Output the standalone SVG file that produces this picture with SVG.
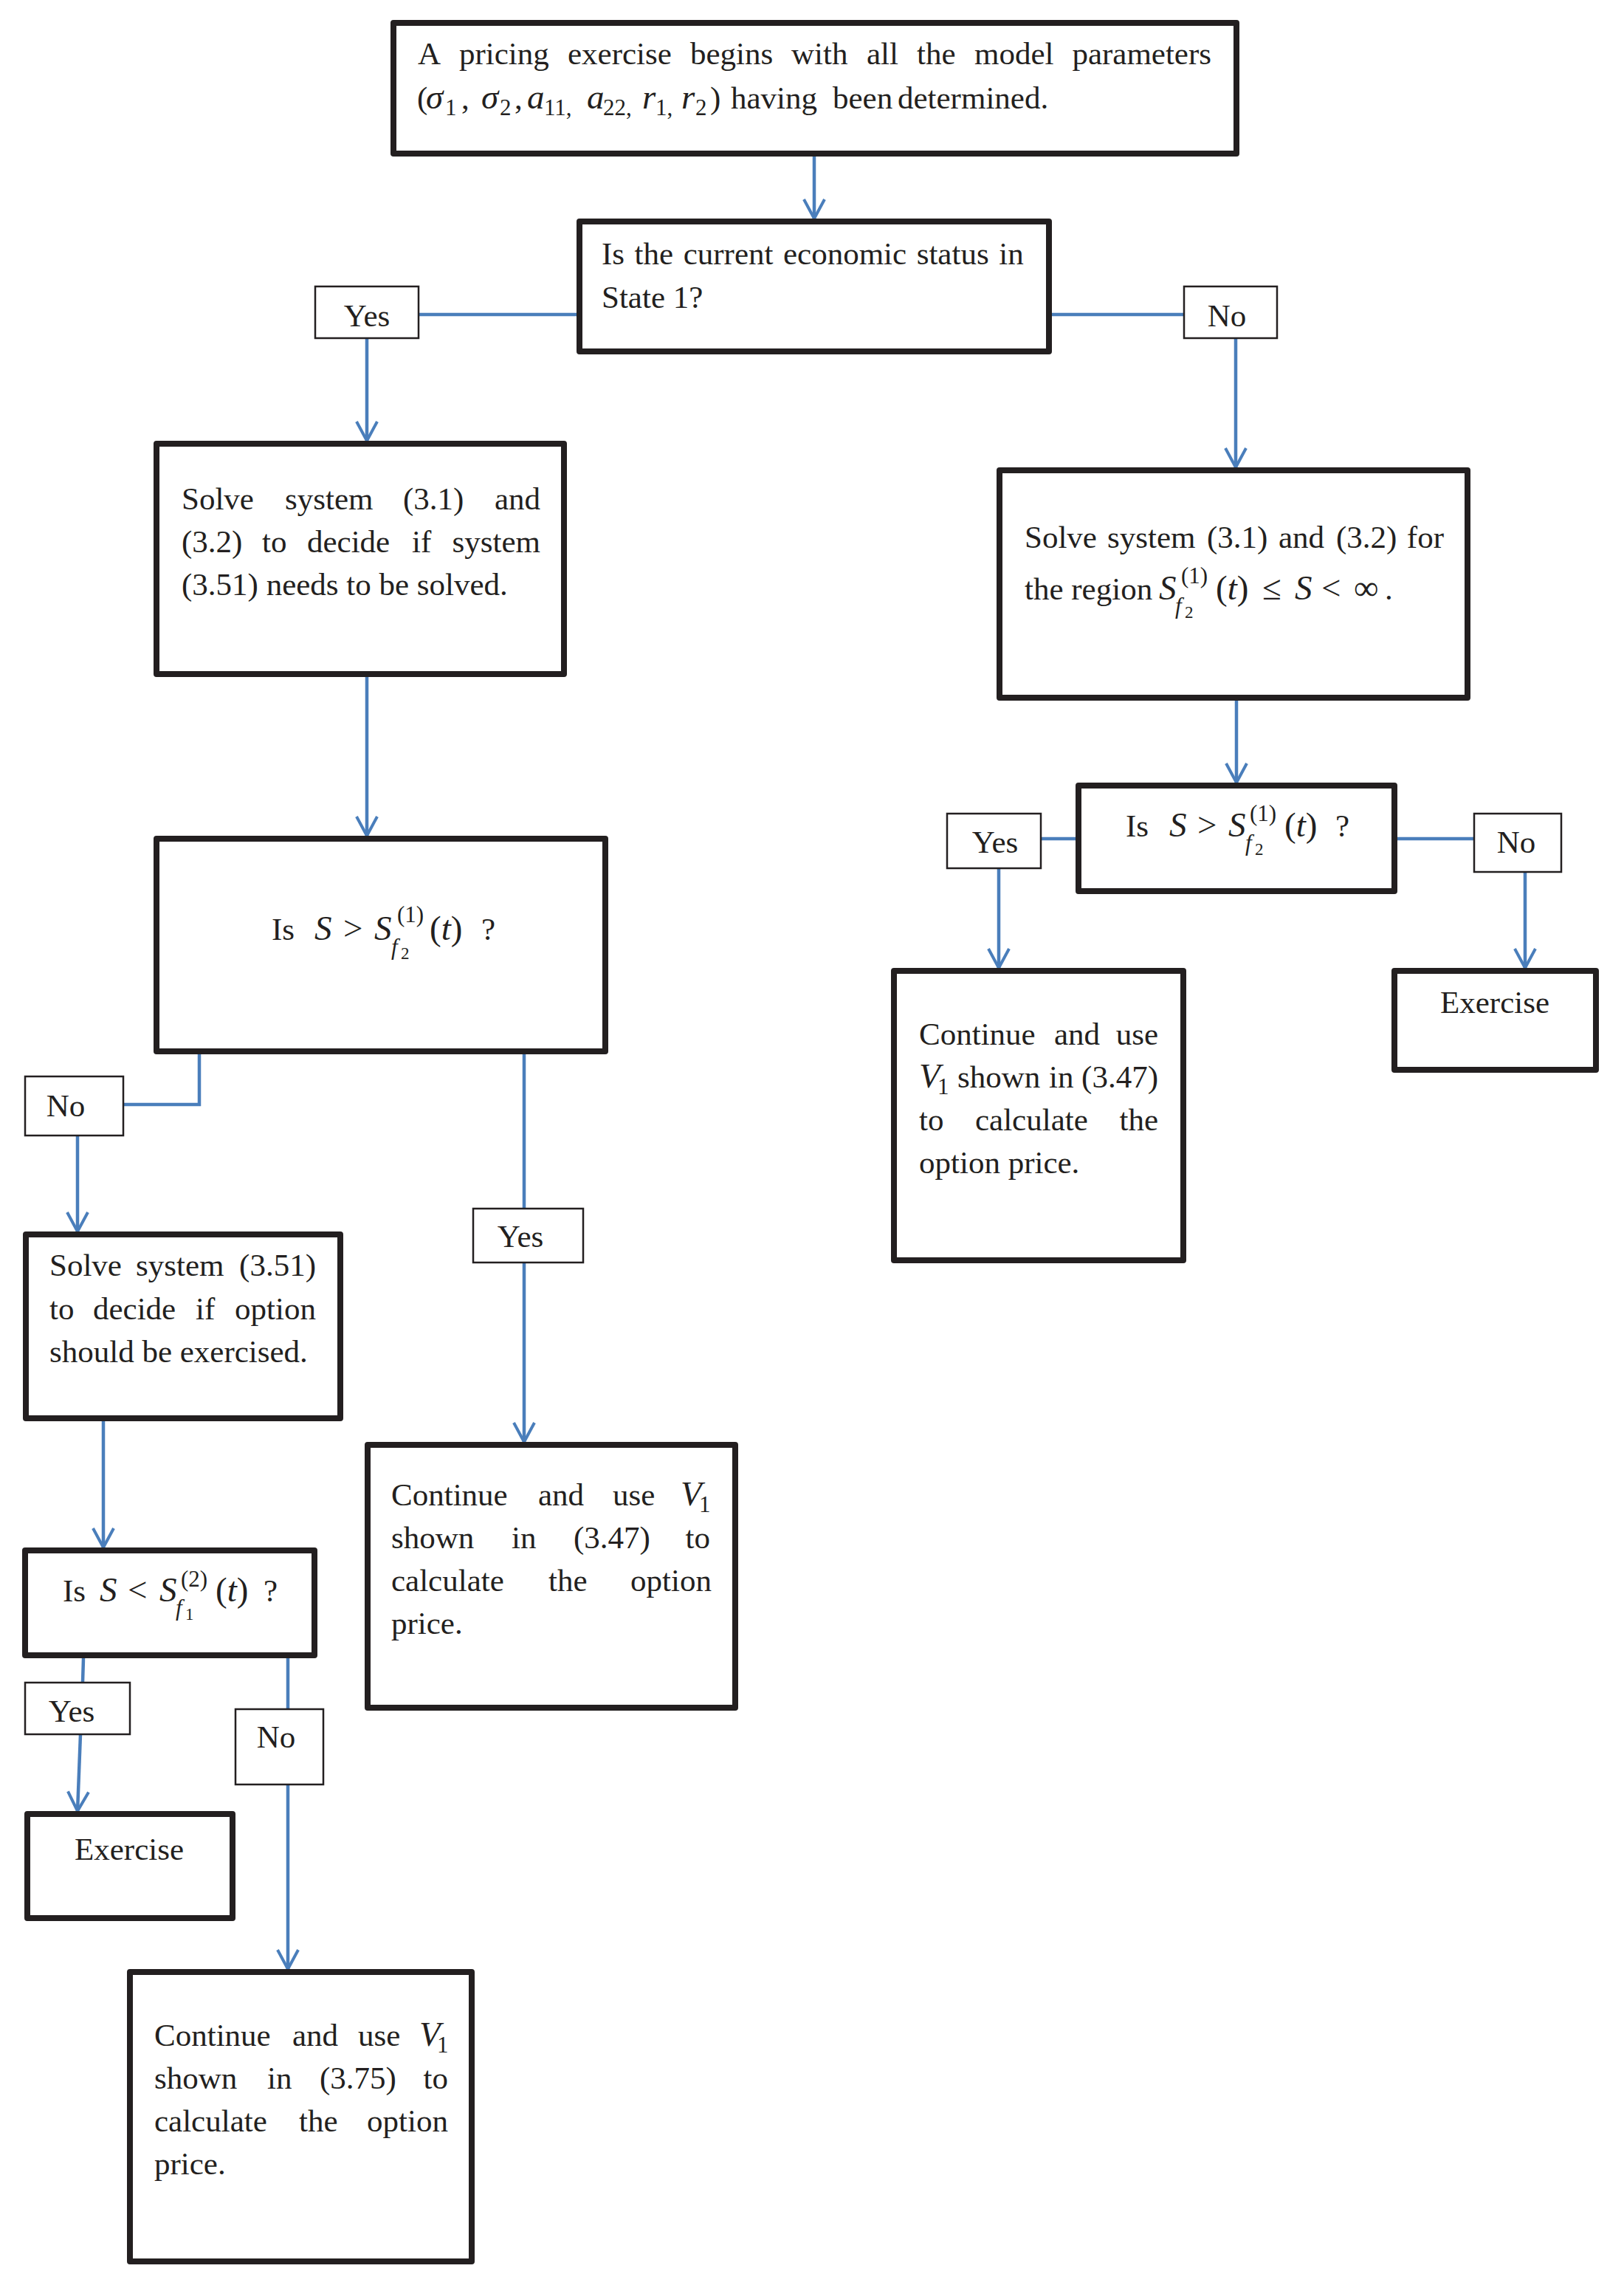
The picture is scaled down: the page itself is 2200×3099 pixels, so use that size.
<svg xmlns="http://www.w3.org/2000/svg" width="2200" height="3099" viewBox="0 0 2200 3099">
<style>
.box{fill:#fff;stroke:#231f20;stroke-width:8;stroke-linejoin:round}
.lbl{fill:#fff;stroke:#231f20;stroke-width:2.5}
.t{font-family:"Liberation Serif","Times New Roman",serif;font-size:43px;fill:#231f20}
.i{font-style:italic}
.s{font-size:31px}
.ss{font-size:23px}
.mx{font-size:47px}
.e{text-anchor:end}
.m{text-anchor:middle}
.c{stroke:#4a7ebb;stroke-width:4.5;fill:none}
</style>
<defs>
<marker id="ah" markerUnits="userSpaceOnUse" markerWidth="40" markerHeight="40" viewBox="-30 -20 40 40" refX="0" refY="0" orient="auto">
<path d="M-26,-14 L0,0 L-26,14" fill="none" stroke="#4a7ebb" stroke-width="4"/>
</marker>
</defs>
<rect width="2200" height="3099" fill="#fff"/>

<g id="connectors">
<line class="c" x1="1103" y1="212" x2="1103" y2="296" marker-end="url(#ah)"/>
<line class="c" x1="567" y1="426" x2="781" y2="426"/>
<line class="c" x1="497" y1="458" x2="497" y2="597" marker-end="url(#ah)"/>
<line class="c" x1="1425" y1="426" x2="1604" y2="426"/>
<line class="c" x1="1674" y1="458" x2="1674" y2="633" marker-end="url(#ah)"/>
<line class="c" x1="497" y1="917" x2="497" y2="1132" marker-end="url(#ah)"/>
<line class="c" x1="1675" y1="949" x2="1675" y2="1060" marker-end="url(#ah)"/>
<line class="c" x1="1410" y1="1136" x2="1457" y2="1136"/>
<line class="c" x1="1353" y1="1176" x2="1353" y2="1311" marker-end="url(#ah)"/>
<line class="c" x1="1893" y1="1136" x2="1997" y2="1136"/>
<line class="c" x1="2066" y1="1181" x2="2066" y2="1311" marker-end="url(#ah)"/>
<polyline class="c" points="270,1428 270,1496 167,1496"/>
<line class="c" x1="105" y1="1538" x2="105" y2="1668" marker-end="url(#ah)"/>
<line class="c" x1="710" y1="1428" x2="710" y2="1637"/>
<line class="c" x1="710" y1="1710" x2="710" y2="1953" marker-end="url(#ah)"/>
<line class="c" x1="140" y1="1925" x2="140" y2="2096" marker-end="url(#ah)"/>
<line class="c" x1="113" y1="2246" x2="112" y2="2279"/>
<line class="c" x1="109" y1="2349" x2="105" y2="2453" marker-end="url(#ah)"/>
<line class="c" x1="390" y1="2246" x2="390" y2="2315"/>
<line class="c" x1="390" y1="2417" x2="390" y2="2667" marker-end="url(#ah)"/>
</g>

<g id="n-start">
<rect class="box" x="533" y="31" width="1142" height="177"/>
<text class="t" y="87"><tspan x="566">A</tspan><tspan x="622">pricing</tspan><tspan x="769">exercise</tspan><tspan x="935">begins</tspan><tspan x="1072">with</tspan><tspan x="1174">all</tspan><tspan x="1242">the</tspan><tspan x="1320">model</tspan></text>
<text class="t e" x="1641" y="87">parameters</text>
<text class="t" y="147"><tspan x="565">(</tspan><tspan x="577" class="i mx">σ</tspan><tspan x="603" y="156" class="s">1</tspan><tspan x="625" y="147">,</tspan><tspan x="652" class="i mx">σ</tspan><tspan x="677" y="156" class="s">2</tspan><tspan x="697" y="147">,</tspan><tspan x="714" class="i mx">a</tspan><tspan x="737" y="156" class="s">11,</tspan><tspan x="795" y="147" class="i mx">a</tspan><tspan x="817" y="156" class="s">22,</tspan><tspan x="870" y="147" class="i mx">r</tspan><tspan x="888" y="156" class="s">1,</tspan><tspan x="923" y="147" class="i mx">r</tspan><tspan x="942" y="156" class="s">2</tspan><tspan x="962" y="147">)</tspan><tspan x="990">having</tspan><tspan x="1128">been</tspan><tspan x="1216">determined.</tspan></text>
</g>

<g id="n-state1">
<rect class="box" x="785" y="300" width="636" height="176"/>
<text class="t" x="815" y="358" style="word-spacing:2.8px">Is the current economic status in</text>
<text class="t" x="815" y="417">State 1?</text>
</g>

<g id="l-yes1">
<rect class="lbl" x="427" y="388" width="140" height="70"/>
<text class="t m" x="497" y="442">Yes</text>
</g>
<g id="l-no1">
<rect class="lbl" x="1604" y="388" width="126" height="70"/>
<text class="t m" x="1662" y="442">No</text>
</g>

<g id="n-solve-left">
<rect class="box" x="212" y="601" width="552" height="312"/>
<text class="t" y="690"><tspan x="246">Solve</tspan><tspan x="386">system</tspan><tspan x="546">(3.1)</tspan></text>
<text class="t e" x="732" y="690">and</text>
<text class="t" y="748"><tspan x="246">(3.2)</tspan><tspan x="355">to</tspan><tspan x="416">decide</tspan><tspan x="558">if</tspan></text>
<text class="t e" x="732" y="748">system</text>
<text class="t" x="246" y="806">(3.51) needs to be solved.</text>
</g>

<g id="n-solve-right">
<rect class="box" x="1354" y="637" width="634" height="308"/>
<text class="t" y="742"><tspan x="1388">Solve</tspan><tspan x="1500">system</tspan><tspan x="1635">(3.1)</tspan><tspan x="1732">and</tspan><tspan x="1810">(3.2)</tspan></text>
<text class="t e" x="1956" y="742">for</text>
<text class="t" y="812"><tspan x="1388">the region</tspan><tspan x="1570" class="i mx">S</tspan><tspan x="1592" y="831" class="s i">f</tspan><tspan x="1605" y="837" class="ss">2</tspan><tspan x="1600" y="790" class="s">(1)</tspan><tspan x="1647" y="812" class="mx">(</tspan><tspan class="i mx">t</tspan><tspan class="mx">)</tspan><tspan x="1710" class="mx">≤</tspan><tspan x="1754" class="i mx">S</tspan><tspan x="1790" class="mx">&lt;</tspan><tspan x="1834" class="mx">∞</tspan><tspan x="1876">.</tspan></text>
</g>

<g id="n-is-s-gt-right">
<rect class="box" x="1461" y="1064" width="428" height="143"/>
<text class="t" y="1133"><tspan x="1525">Is</tspan><tspan x="1584" class="i mx">S</tspan><tspan x="1622" class="mx">&gt;</tspan><tspan x="1664" class="i mx">S</tspan><tspan x="1687" y="1152" class="s i">f</tspan><tspan x="1700" y="1158" class="ss">2</tspan><tspan x="1693" y="1112" class="s">(1)</tspan><tspan x="1740" y="1133" class="mx">(</tspan><tspan class="i mx">t</tspan><tspan class="mx">)</tspan><tspan x="1809">?</tspan></text>
</g>

<g id="l-yes-right">
<rect class="lbl" x="1283" y="1102" width="127" height="74"/>
<text class="t m" x="1348" y="1155">Yes</text>
</g>
<g id="l-no-right">
<rect class="lbl" x="1997" y="1102" width="118" height="79"/>
<text class="t m" x="2054" y="1155">No</text>
</g>

<g id="n-continue-right">
<rect class="box" x="1211" y="1315" width="392" height="392"/>
<text class="t" y="1415"><tspan x="1245">Continue</tspan><tspan x="1428">and</tspan></text>
<text class="t e" x="1569" y="1415">use</text>
<text class="t" y="1473"><tspan x="1245" class="i mx">V</tspan><tspan x="1270" y="1482" class="s">1</tspan><tspan x="1297" y="1473">shown</tspan><tspan x="1421">in</tspan></text>
<text class="t e" x="1569" y="1473">(3.47)</text>
<text class="t" y="1531"><tspan x="1245">to</tspan><tspan x="1321">calculate</tspan></text>
<text class="t e" x="1569" y="1531">the</text>
<text class="t" x="1245" y="1589">option price.</text>
</g>

<g id="n-exercise-right">
<rect class="box" x="1889" y="1315" width="273" height="134"/>
<text class="t m" x="2025" y="1372">Exercise</text>
</g>

<g id="n-is-s-gt-left">
<rect class="box" x="212" y="1136" width="608" height="288"/>
<text class="t" y="1273"><tspan x="368">Is</tspan><tspan x="426" class="i mx">S</tspan><tspan x="465" class="mx">&gt;</tspan><tspan x="507" class="i mx">S</tspan><tspan x="530" y="1293" class="s i">f</tspan><tspan x="543" y="1299" class="ss">2</tspan><tspan x="538" y="1249" class="s">(1)</tspan><tspan x="582" y="1273" class="mx">(</tspan><tspan class="i mx">t</tspan><tspan class="mx">)</tspan><tspan x="652">?</tspan></text>
</g>

<g id="l-no-left">
<rect class="lbl" x="34" y="1458" width="133" height="80"/>
<text class="t m" x="89" y="1512">No</text>
</g>

<g id="l-yes-mid">
<rect class="lbl" x="641" y="1637" width="149" height="73"/>
<text class="t m" x="705" y="1689">Yes</text>
</g>

<g id="n-solve-351">
<rect class="box" x="35" y="1672" width="426" height="249"/>
<text class="t" y="1728"><tspan x="67">Solve</tspan><tspan x="184">system</tspan></text>
<text class="t e" x="428" y="1728">(3.51)</text>
<text class="t" y="1787"><tspan x="67">to</tspan><tspan x="126">decide</tspan><tspan x="265">if</tspan></text>
<text class="t e" x="428" y="1787">option</text>
<text class="t" x="67" y="1845">should be exercised.</text>
</g>

<g id="n-continue-mid">
<rect class="box" x="498" y="1957" width="498" height="356"/>
<text class="t" y="2039"><tspan x="530">Continue</tspan><tspan x="729">and</tspan><tspan x="830">use</tspan><tspan x="922" class="i mx">V</tspan><tspan x="947" y="2048" class="s">1</tspan></text>
<text class="t" y="2097"><tspan x="530">shown</tspan><tspan x="693">in</tspan><tspan x="777">(3.47)</tspan></text>
<text class="t e" x="962" y="2097">to</text>
<text class="t" y="2155"><tspan x="530">calculate</tspan><tspan x="743">the</tspan></text>
<text class="t e" x="964" y="2155">option</text>
<text class="t" x="530" y="2213">price.</text>
</g>

<g id="n-is-s-lt">
<rect class="box" x="34" y="2100" width="392" height="142"/>
<text class="t" y="2169"><tspan x="85">Is</tspan><tspan x="135" class="i mx">S</tspan><tspan x="173" class="mx">&lt;</tspan><tspan x="216" class="i mx">S</tspan><tspan x="238" y="2188" class="s i">f</tspan><tspan x="251" y="2194" class="ss">1</tspan><tspan x="245" y="2149" class="s">(2)</tspan><tspan x="292" y="2169" class="mx">(</tspan><tspan class="i mx">t</tspan><tspan class="mx">)</tspan><tspan x="357">?</tspan></text>
</g>

<g id="l-yes-bottom">
<rect class="lbl" x="34" y="2279" width="142" height="70"/>
<text class="t m" x="97" y="2332">Yes</text>
</g>
<g id="l-no-bottom">
<rect class="lbl" x="319" y="2315" width="119" height="102"/>
<text class="t m" x="374" y="2367">No</text>
</g>

<g id="n-exercise-left">
<rect class="box" x="37" y="2457" width="278" height="141"/>
<text class="t m" x="175" y="2519">Exercise</text>
</g>

<g id="n-continue-final">
<rect class="box" x="176" y="2671" width="463" height="392"/>
<text class="t" y="2771"><tspan x="209">Continue</tspan><tspan x="396">and</tspan><tspan x="485">use</tspan><tspan x="568" class="i mx">V</tspan><tspan x="592" y="2780" class="s">1</tspan></text>
<text class="t" y="2829"><tspan x="209">shown</tspan><tspan x="362">in</tspan><tspan x="433">(3.75)</tspan></text>
<text class="t e" x="607" y="2829">to</text>
<text class="t" y="2887"><tspan x="209">calculate</tspan><tspan x="405">the</tspan></text>
<text class="t e" x="607" y="2887">option</text>
<text class="t" x="209" y="2945">price.</text>
</g>
</svg>
